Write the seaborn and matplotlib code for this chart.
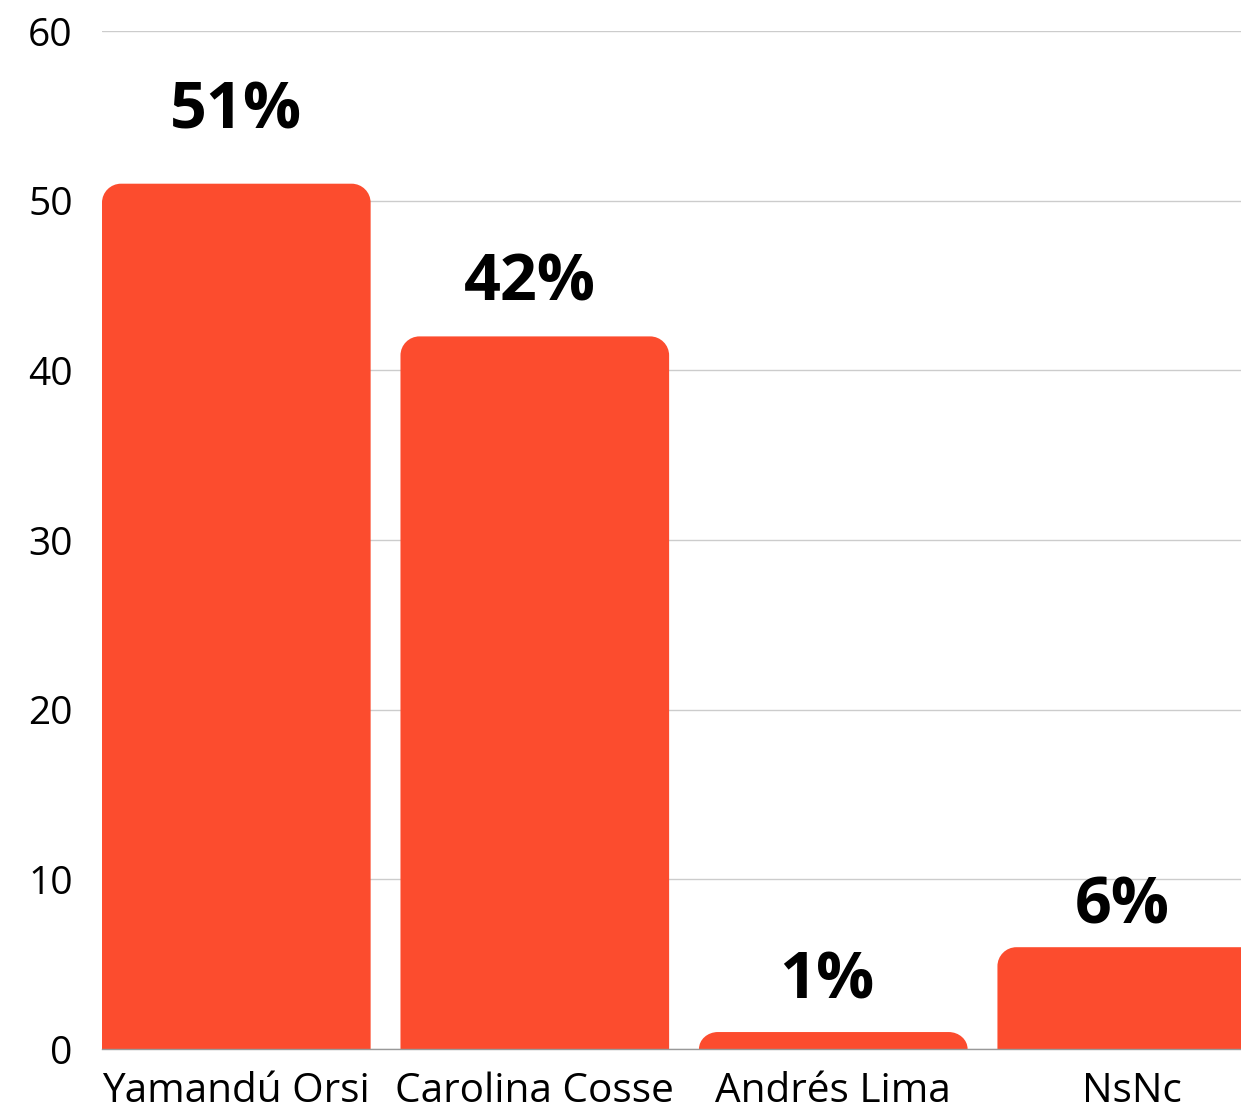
import numpy as np
import pandas as pd
import matplotlib
matplotlib.use("Agg")
import matplotlib.pyplot as plt
from matplotlib.path import Path
from matplotlib.patches import PathPatch
import seaborn as sns

# --- Data ---
candidates = ["Yamandú Orsi", "Carolina Cosse", "Andrés Lima", "NsNc"]
values = [51, 42, 1, 6]
y_ticks = [0, 10, 20, 30, 40, 50, 60]

# --- Style ---
BAR_COLOR = "#FC4C2E"
GRID_COLOR = "#CCCCCC"
AXIS_COLOR = "#999999"
FONT = ["Open Sans", "DejaVu Sans"]
CORNER_PX = 19
KAPPA = 0.5523
LABEL_PAD_PX = [55, 36, 34, 24]
LABEL_DX_PX = [0, -5, -7, 3]

sns.set_theme(style="white")
plt.rcParams["font.family"] = FONT

df = pd.DataFrame({"candidate": candidates, "value": values})

fig = plt.figure(figsize=(12.41, 11.08), dpi=100)
ax = fig.add_axes([102 / 1241, 1 - 1049 / 1108, 1 - 102 / 1241, (1049 - 31) / 1108])

sns.barplot(data=df, x="candidate", y="value", color=BAR_COLOR, saturation=1,
            width=0.9, ax=ax, zorder=3)

ax.set_xlim(-0.45, 3.366)
ax.set_ylim(0, 60)
ax.set_yticks(y_ticks)
ax.set_xlabel("")
ax.set_ylabel("")
ax.yaxis.grid(True, color=GRID_COLOR, linewidth=1)
ax.set_axisbelow(True)
for side in ["left", "right", "top"]:
    ax.spines[side].set_visible(False)
ax.spines["bottom"].set_color(AXIS_COLOR)
ax.spines["bottom"].set_linewidth(1)
ax.spines["bottom"].set_zorder(4)
ax.tick_params(axis="both", length=0, colors="black")
ax.tick_params(axis="y", pad=21, labelsize=28)
ax.tick_params(axis="x", pad=16, labelsize=29.2)

# pixel scale for rounded corners
bbox = ax.get_window_extent()
px_x = bbox.width / (ax.get_xlim()[1] - ax.get_xlim()[0])
px_y = bbox.height / (ax.get_ylim()[1] - ax.get_ylim()[0])
rx = CORNER_PX / px_x
ry = CORNER_PX / px_y

xmax = ax.get_xlim()[1]
for patch, val, pad, dx in zip(list(ax.patches), values, LABEL_PAD_PX, LABEL_DX_PX):
    x0 = patch.get_x()
    x1 = x0 + patch.get_width()
    y0 = 0
    y1 = patch.get_height()
    r_y = min(ry, y1)
    k = 1 - KAPPA
    verts = [(x0, y0), (x0, y1 - r_y),
             (x0, y1 - r_y * k), (x0 + rx * k, y1), (x0 + rx, y1),
             (x1 - rx, y1),
             (x1 - rx * k, y1), (x1, y1 - r_y * k), (x1, y1 - r_y),
             (x1, y0), (x0, y0)]
    codes = [Path.MOVETO, Path.LINETO,
             Path.CURVE4, Path.CURVE4, Path.CURVE4,
             Path.LINETO,
             Path.CURVE4, Path.CURVE4, Path.CURVE4,
             Path.LINETO, Path.CLOSEPOLY]
    rounded = PathPatch(Path(verts, codes), facecolor=BAR_COLOR, edgecolor="none", zorder=3)
    ax.add_patch(rounded)
    patch.set_visible(False)

    cx = (x0 + min(x1, xmax)) / 2
    ax.annotate(f"{val}%", xy=(cx, y1), xytext=(dx * 72 / 100, pad * 72 / 100),
                textcoords="offset points", ha="center", va="baseline",
                fontsize=46.5, fontweight="bold", color="black")

plt.savefig("out.png", dpi=100)
